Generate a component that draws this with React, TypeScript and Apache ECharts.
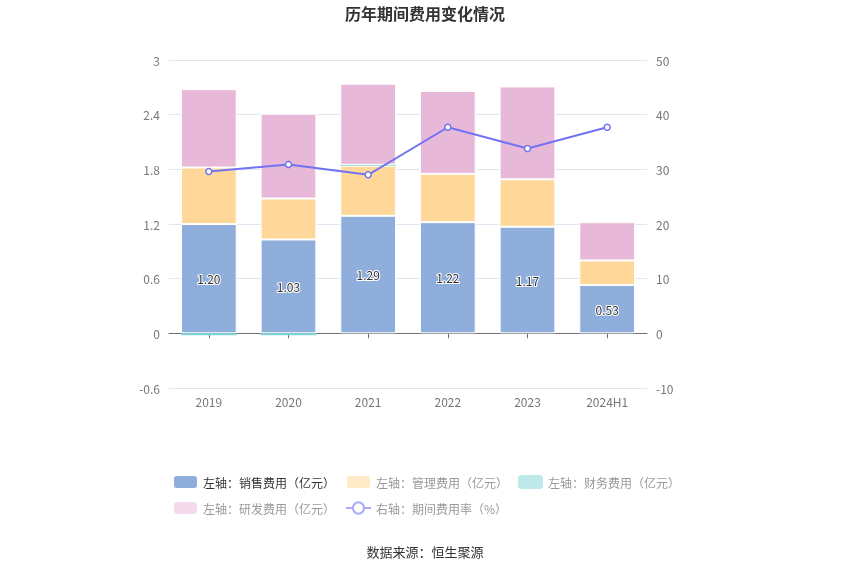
import React, { useEffect, useRef } from "react";
import * as echarts from "echarts";

const categories = ["2019", "2020", "2021", "2022", "2023", "2024H1"];
const salesExp = [1.2, 1.03, 1.29, 1.22, 1.17, 0.53];
const adminExp = [0.62, 0.45, 0.55, 0.53, 0.52, 0.27];
const financeExp = [-0.02, -0.02, 0.01, 0.0, 0.0, 0.0];
const rdExp = [0.86, 0.93, 0.89, 0.91, 1.02, 0.42];
const expenseRate = [29.6, 30.9, 29.0, 37.7, 33.8, 37.7];

export default function App() {
  const ref = useRef<HTMLDivElement>(null);
  useEffect(() => {
    if (!ref.current) return;
    const chart = echarts.init(ref.current, null, { renderer: "svg" });
    const font = "'Microsoft YaHei', 'Noto Sans CJK SC', sans-serif";
    chart.setOption({
      animation: false,
      textStyle: { fontFamily: font },
      title: {
        text: "历年期间费用变化情况",
        left: "center",
        top: 0,
        textStyle: { fontSize: 16, fontWeight: "bold", color: "#333", fontFamily: font },
      },
      grid: { left: 169, right: 203, top: 60, bottom: 187 },
      legend: {
        top: 474,
        left: 172,
        width: 520,
        itemWidth: 25,
        itemHeight: 14,
        itemGap: 10,
        padding: 0,
        textStyle: { fontSize: 12, color: "#999" },
        data: [
          { name: "左轴：销售费用（亿元）", itemStyle: { color: "#8FAEDB" }, textStyle: { color: "#333" } },
          { name: "左轴：管理费用（亿元）", itemStyle: { color: "#FFE9C6" } },
          { name: "左轴：财务费用（亿元）", itemStyle: { color: "#BEE9EB" } },
          { name: "左轴：研发费用（亿元）", itemStyle: { color: "#F3DBEC" } },
          { name: "右轴：期间费用率（%）", itemStyle: { color: "#fff", borderColor: "#A9ABF5" }, lineStyle: { color: "#A9ABF5" } },
        ],
      },
      graphic: [
        {
          type: "text",
          left: "center",
          top: 545,
          style: { text: "数据来源：恒生聚源", fontSize: 13, fill: "#333", fontFamily: font },
        },
      ],
      xAxis: {
        type: "category",
        data: categories,
        axisLine: { onZero: true, lineStyle: { color: "#6E7079" } },
        axisTick: { show: true, alignWithLabel: true },
        axisLabel: { color: "#777", fontSize: 12, margin: 7 },
      },
      yAxis: [
        {
          type: "value",
          min: -0.6,
          max: 3,
          interval: 0.6,
          axisLabel: { color: "#777", fontSize: 12, margin: 9 },
          splitLine: { lineStyle: { color: "#E0E6F1" } },
          axisLine: { show: false },
        },
        {
          type: "value",
          min: -10,
          max: 50,
          interval: 10,
          axisLabel: { color: "#777", fontSize: 12, margin: 9 },
          splitLine: { show: false },
          axisLine: { show: false },
        },
      ],
      series: [
        {
          name: "左轴：销售费用（亿元）",
          type: "bar",
          stack: "a",
          barWidth: "70%",
          data: salesExp,
          itemStyle: { color: "#8FAEDB", borderColor: "#fff", borderWidth: 1 },
          label: {
            show: true,
            position: "inside",
            formatter: (p: any) => p.value.toFixed(2),
            color: "#333",
            fontSize: 12,
            textBorderColor: "#fff",
            textBorderWidth: 2,
          },
        },
        {
          name: "左轴：管理费用（亿元）",
          type: "bar",
          stack: "a",
          data: adminExp,
          itemStyle: { color: "#FFD899", borderColor: "#fff", borderWidth: 1 },
        },
        {
          name: "左轴：财务费用（亿元）",
          type: "bar",
          stack: "a",
          data: financeExp,
          itemStyle: { color: "#7FD6D8" },
        },
        {
          name: "左轴：研发费用（亿元）",
          type: "bar",
          stack: "a",
          data: rdExp,
          itemStyle: { color: "#E8B8D8", borderColor: "#fff", borderWidth: 1 },
        },
        {
          name: "右轴：期间费用率（%）",
          type: "line",
          yAxisIndex: 1,
          data: expenseRate,
          symbol: "circle",
          symbolSize: 6,
          lineStyle: { color: "#7073F2", width: 2 },
          itemStyle: { color: "#fff", borderColor: "#7073F2", borderWidth: 1.5 },
        },
      ],
    });
    return () => chart.dispose();
  }, []);
  return <div ref={ref} style={{ position: "fixed", left: 0, top: 0, width: 850, height: 575 }} />;
}
